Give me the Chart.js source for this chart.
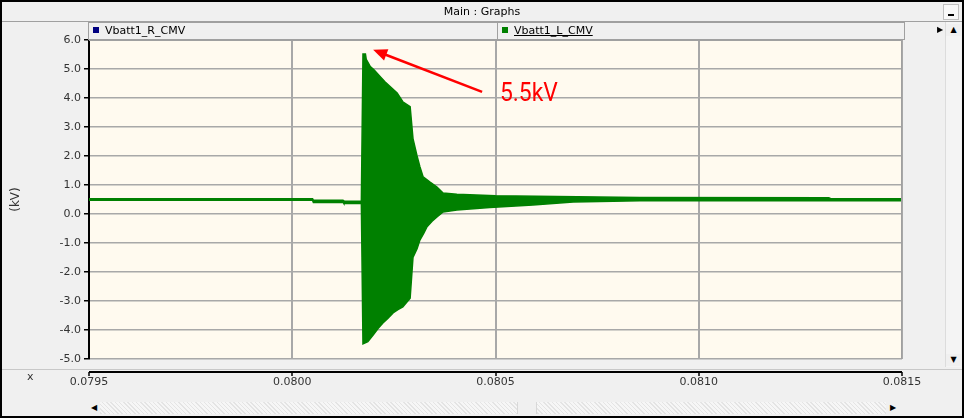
<!DOCTYPE html>
<html>
<head>
<meta charset="utf-8">
<script src="https://cdn.jsdelivr.net/npm/chart.js@4.4.1/dist/chart.umd.min.js"></script>
<style>
  body { margin: 0; background: #fff; }
  #win { position: absolute; left: 0; top: 0; width: 960px; height: 414px; border: 2px solid #000; background: #f0f0f0; overflow: hidden; font-family: "DejaVu Sans", sans-serif; }
  #titlebar { position: absolute; left: 0; top: 0; width: 960px; height: 19px; border-bottom: 1px solid #a0a0a0; text-align: center; font-size: 11px; line-height: 19px; color: #000; }
  #minbtn { position: absolute; right: 3px; top: 2px; width: 14px; height: 14px; border: 1px solid #c0c0c0; background: #f8f8f8; }
  #minbtn:after { content: ""; position: absolute; left: 4px; top: 9px; width: 6px; height: 2px; background: #000; }
  #legend { position: absolute; left: 86px; top: 20px; width: 815px; height: 16px; border: 1px solid #a0a0a0; background: #f0f0f0; font-size: 11px; line-height: 16px; }
  .cell { position: absolute; top: 0; height: 16px; }
  .sq { display: inline-block; width: 6px; height: 6px; margin: 0 6px 1px 4px; }
  #c2 { border-left: 1px solid #a0a0a0; }
  #chart { position: absolute; left: -2px; top: -2px; }
  #vscroll { position: absolute; left: 943px; top: 20px; width: 15px; height: 345px; background: #f4f4f4; border-left: 1px solid #dcdcdc; }
  #hscroll { position: absolute; left: 86px; top: 400px; width: 812px; height: 12px; background: repeating-linear-gradient(45deg, #e4e4e4 0 1px, #f6f6f6 1px 3px); }
  .arr { position: absolute; font-size: 8px; line-height: 12px; color: #000; background: #f0f0f0; text-align: center; }
</style>
</head>
<body>
<div id="win">
  <canvas id="chart" width="964" height="418"></canvas>
  <div id="titlebar">Main : Graphs<div id="minbtn"></div></div>
  <div id="legend">
    <div class="cell" id="c1" style="left:0;width:408px"><span class="sq" style="background:#000080"></span>Vbatt1_R_CMV</div>
    <div class="cell" id="c2" style="left:408px;width:406px"><span class="sq" style="background:#008000"></span><span style="text-decoration:underline">Vbatt1_L_CMV</span></div>
  </div>
  <div class="arr" style="left:934px;top:22px;width:8px;">&#9654;</div>
  <div id="vscroll">
    <div class="arr" style="left:0;top:2px;width:15px;">&#9650;</div>
    <div class="arr" style="left:0;top:332px;width:15px;">&#9660;</div>
  </div>
  <div id="hscroll">
    <div class="arr" style="left:0;top:0;width:12px;height:12px;">&#9664;</div>
    <div style="position:absolute;left:429px;top:0;width:18px;height:12px;background:#f0f0f0;border-left:1px solid #d8d8d8;border-right:1px solid #d8d8d8;"></div>
    <div class="arr" style="left:798px;top:0;width:14px;height:12px;">&#9654;</div>
  </div>
</div>
<script>
// time axis (s) and envelope of Vbatt1_L_CMV (kV)
const upperT = [0.07950, 0.080050, 0.080052, 0.080125, 0.080127, 0.080170, 0.080174, 0.080180, 0.080182,
  0.080192, 0.080201, 0.080216, 0.080228, 0.080240, 0.080258, 0.080272, 0.080290, 0.080297, 0.080307,
  0.080314, 0.080322, 0.080339, 0.080356, 0.080371, 0.080405, 0.080500, 0.080650, 0.080855, 0.081320,
  0.081325, 0.08150];
const upperV = [0.53, 0.53, 0.47, 0.47, 0.44, 0.44, 5.52, 5.52, 5.33,
  5.08, 4.97, 4.74, 4.56, 4.40, 4.17, 3.87, 3.70, 2.60, 2.00,
  1.63, 1.28, 1.10, 0.93, 0.72, 0.68, 0.63, 0.60, 0.57, 0.56,
  0.53, 0.53];

const lowerT = [0.07950, 0.080050, 0.080052, 0.080125, 0.080127, 0.080170, 0.080174, 0.080186, 0.080199,
  0.080211, 0.080223, 0.080235, 0.080248, 0.080260, 0.080272, 0.080290, 0.080297, 0.080307, 0.080314,
  0.080324, 0.080331, 0.080344, 0.080356, 0.080371, 0.080405, 0.080486, 0.080592, 0.080691, 0.080855,
  0.08150];
const lowerV = [0.47, 0.47, 0.40, 0.40, 0.36, 0.36, -4.48, -4.40, -4.17,
  -3.95, -3.76, -3.60, -3.41, -3.30, -3.20, -2.90, -1.50, -1.20, -0.90,
  -0.65, -0.45, -0.25, -0.10, 0.07, 0.14, 0.22, 0.31, 0.41, 0.46,
  0.46];

const xTicks = [0.0795, 0.0800, 0.0805, 0.0810, 0.0815];
const yTicks = [-5, -4, -3, -2, -1, 0, 1, 2, 3, 4, 5, 6];

// annotation: arrow tail -> tip, and label
const arrowFrom = [0.080467, 4.21];
const arrowTo = [0.080199, 5.66];
const notePos = [0.080511, 3.90];
const noteText = '5.5kV';

let upperPts = upperT.map((t, i) => ({ x: t, y: upperV[i] }));
let lowerPts = lowerT.map((t, i) => ({ x: t, y: lowerV[i] }));

let green = '#008000';

let backdrop = {
  id: 'backdrop',
  beforeDraw(chart) {
    let a = chart.chartArea;
    let c = chart.ctx;
    c.save();
    c.fillStyle = '#fffaef';
    c.fillRect(a.left, a.top, a.right - a.left, a.bottom - a.top);
    c.restore();
  },
  afterDraw(chart) {
    let c = chart.ctx;
    let a = chart.chartArea;
    let xs = chart.scales.x;
    let ys = chart.scales.y;
    c.save();
    // plot frame top/right
    c.strokeStyle = '#a0a0a0';
    c.lineWidth = 1;
    c.beginPath();
    c.moveTo(a.left, a.top + 0.5);
    c.lineTo(a.right - 0.5, a.top + 0.5);
    c.lineTo(a.right - 0.5, a.bottom);
    c.stroke();
    // panel separator and x axis line below the plot
    c.strokeStyle = '#c8c8c8';
    c.beginPath();
    c.moveTo(0, 369.5);
    c.lineTo(964, 369.5);
    c.stroke();
    c.strokeStyle = '#000';
    c.lineWidth = 2;
    c.beginPath();
    c.moveTo(a.left, 372);
    c.lineTo(a.right, 372);
    c.stroke();
    c.lineWidth = 1.5;
    xTicks.forEach(v => {
      let px = Math.round(xs.getPixelForValue(v));
      c.beginPath();
      c.moveTo(px, 372);
      c.lineTo(px, 376);
      c.stroke();
    });
    c.fillStyle = '#333';
    c.font = '11px "DejaVu Sans"';
    c.fillText('x', 27, 380);
    // red arrow annotation
    let x0 = xs.getPixelForValue(arrowFrom[0]), y0 = ys.getPixelForValue(arrowFrom[1]);
    let x1 = xs.getPixelForValue(arrowTo[0]), y1 = ys.getPixelForValue(arrowTo[1]);
    let ang = Math.atan2(y1 - y0, x1 - x0);
    c.strokeStyle = '#ff0000';
    c.fillStyle = '#ff0000';
    c.lineWidth = 2.5;
    c.beginPath();
    c.moveTo(x0, y0);
    c.lineTo(x1 - 10 * Math.cos(ang), y1 - 10 * Math.sin(ang));
    c.stroke();
    c.beginPath();
    c.moveTo(x1, y1);
    c.lineTo(x1 - 14 * Math.cos(ang) + 6 * Math.sin(ang), y1 - 14 * Math.sin(ang) - 6 * Math.cos(ang));
    c.lineTo(x1 - 14 * Math.cos(ang) - 6 * Math.sin(ang), y1 - 14 * Math.sin(ang) + 6 * Math.cos(ang));
    c.closePath();
    c.fill();
    c.translate(xs.getPixelForValue(notePos[0]), ys.getPixelForValue(notePos[1]));
    c.scale(0.88, 1);
    c.font = '26px Roboto';
    c.textBaseline = 'alphabetic';
    c.fillText(noteText, 0, 0);
    c.restore();
  }
};

let chart = new Chart(document.getElementById('chart'), {
  type: 'line',
  data: {
    datasets: [
      { label: 'upper', data: upperPts, borderColor: green, borderWidth: 1.5, pointRadius: 0, fill: false },
      { label: 'lower', data: lowerPts, borderColor: green, borderWidth: 1.5, pointRadius: 0, fill: '-1', backgroundColor: green }
    ]
  },
  options: {
    responsive: false,
    animation: false,
    events: [],
    layout: { padding: { top: 40, right: 62, bottom: 0, left: 0 } },
    plugins: { legend: { display: false }, tooltip: { enabled: false } },
    scales: {
      x: {
        type: 'linear',
        min: xTicks[0],
        max: xTicks[xTicks.length - 1],
        afterBuildTicks: s => { s.ticks = xTicks.map(v => ({ value: v })); },
        afterFit: s => { s.height = 59; },
        ticks: { callback: v => v.toFixed(4), color: '#333', font: { family: 'DejaVu Sans', size: 11 }, padding: 17, maxRotation: 0 },
        grid: { color: '#a8a8a8', lineWidth: 2, drawTicks: false },
        border: { display: false }
      },
      y: {
        min: -5,
        max: 6,
        afterBuildTicks: s => { s.ticks = yTicks.map(v => ({ value: v })); },
        afterFit: s => { s.width = 89; },
        ticks: { callback: v => v.toFixed(1), color: '#333', font: { family: 'DejaVu Sans', size: 11 }, padding: 3 },
        grid: { color: '#a8a8a8', lineWidth: 1.5, tickColor: '#000', tickLength: 5 },
        border: { color: '#000', width: 2 },
        title: { display: true, text: '(kV)', color: '#333', font: { family: 'DejaVu Sans', size: 12 }, padding: { top: 9, bottom: 0 } }
      }
    }
  },
  plugins: [backdrop]
});
</script>
</body>
</html>
